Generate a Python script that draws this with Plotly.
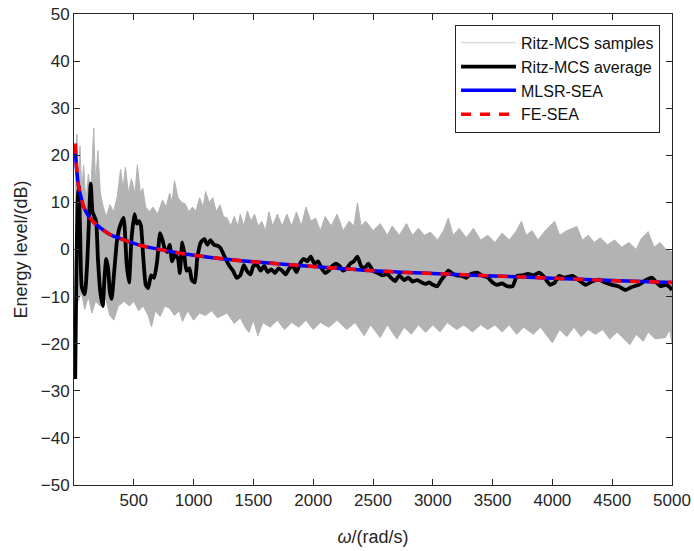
import plotly.graph_objects as go

# ---------------- data ----------------
# Outer envelope of the Ritz-MCS sample cloud (upper extremes)
upper_x = [10, 25, 35, 50, 65, 80, 100, 120, 140, 165, 180, 200, 220, 245, 270, 300, 330, 360, 390,
           410, 430, 455, 480, 510, 530, 555, 575, 600, 630, 660, 700, 740, 770, 800, 820, 840, 870,
           900, 930, 960, 990, 1020, 1050, 1080, 1100, 1130, 1160, 1190, 1220, 1250, 1280, 1310, 1340,
           1370, 1390, 1420, 1450, 1480, 1510, 1540, 1570, 1600, 1630, 1660, 1700, 1740, 1780, 1820,
           1860, 1900, 1940, 1980, 2020, 2060, 2100, 2150, 2200, 2250, 2300, 2340, 2370, 2400, 2440,
           2500, 2560, 2620, 2660, 2720, 2780, 2830, 2880, 2930, 2980, 3040, 3090, 3130, 3170, 3220,
           3280, 3340, 3400, 3460, 3520, 3580, 3640, 3700, 3741, 3780, 3830, 3880, 3940, 4019, 4060,
           4120, 4204, 4250, 4300, 4350, 4400, 4460, 4520, 4580, 4640, 4700, 4741, 4800, 4850, 4900,
           4950, 5000]
upper_y = [20, 24.5, 14, 22, 12, 18, 10, 16, 12, 25.8, 14, 21, 12, 9, 7, 9.5, 8, 11, 17,
           13, 17.5, 12, 15, 12, 18, 12, 13, 9, 8, 9, 7.5, 10.5, 9, 12, 10, 14.6, 11,
           10, 9.7, 8, 9, 8.2, 11, 9, 12.3, 10, 11, 8, 9.5, 7, 6.7, 5, 7,
           5, 7.5, 5, 8.2, 6, 7.5, 5, 6, 4, 8, 5, 7.5, 5, 7.5, 5,
           8, 5, 9, 6, 6.7, 4, 7, 5, 7.5, 4, 6, 5, 9.9, 5, 6,
           4, 5.5, 3, 5, 3, 5.5, 3, 4.5, 3, 3.7, 2, 4, 6.7, 3, 4.5,
           2.5, 4.5, 2, 3, 1.5, 3.5, 2, 4, 6, 3, 4, 2, 4, 6, 3,
           4, 4.9, 2, 3, 1.5, 2.5, 1, 2, 0.5, 1.5, 0, 2.2, 3.8, 0.5, 1.5,
           0, -0.5]

# Outer envelope of the Ritz-MCS sample cloud (lower extremes)
lower_x = [10, 37, 60, 90, 120, 150, 180, 220, 260, 300, 333, 370, 420, 463, 500, 540, 580, 620, 648,
           680, 720, 760, 800, 840, 880, 907, 950, 1000, 1050, 1100, 1150, 1200, 1241, 1280, 1340,
           1390, 1430, 1463, 1500, 1537, 1580, 1640, 1700, 1760, 1820, 1880, 1940, 2000, 2060, 2130,
           2200, 2280, 2350, 2426, 2480, 2560, 2620, 2700, 2760, 2820, 2880, 2940, 3000, 3060, 3120,
           3200, 3260, 3330, 3400, 3460, 3520, 3580, 3640, 3700, 3760, 3840, 3900, 3960, 4000, 4060,
           4120, 4180, 4240, 4300, 4360, 4420, 4480, 4540, 4600, 4648, 4700, 4760, 4800, 4860, 4944,
           4980, 5000]
lower_y = [-8, -11, -9, -12.7, -10, -13.5, -11, -12, -10, -14, -15, -12, -11, -12, -11, -13, -12, -14, -16.4,
           -13, -14.2, -12, -12.5, -14, -13, -15.3, -13, -15, -13.5, -14, -13, -14.5, -14, -13.5, -15.7,
           -14.5, -16.5, -17.6, -15, -18.3, -15.5, -16.5, -15, -17, -15.5, -16.5, -15, -17, -15.5, -16.5,
           -15, -17, -15.5, -18.3, -16, -18.7, -16, -19, -16.5, -18, -16, -17.6, -16, -17.5, -15.5,
           -17, -16, -17.5, -16, -17, -16, -17.5, -16, -18, -16.5, -18, -16.5, -18.5, -19.8, -17,
           -18.5, -16.5, -18.5, -17, -18, -17, -19, -17.5, -19, -20.2, -18, -19.5, -17.5, -19, -18.7,
           -17, -20]

# Ritz-MCS average
avg_x = [10, 20, 30, 40, 52, 65, 90, 110, 125, 140, 155, 170, 185, 200, 220, 240, 255, 270, 285, 300,
         315, 335, 360, 385, 415, 440, 460, 480, 505, 525, 545, 560, 580, 600, 620, 645, 670, 695, 720,
         740, 760, 780, 800, 820, 845, 870, 885, 905, 920, 940, 965, 985, 1010, 1030, 1060, 1090, 1115,
         1140, 1170, 1200, 1225, 1250, 1280, 1300, 1330, 1360, 1390, 1420, 1445, 1476, 1500, 1532, 1560,
         1590, 1620, 1650, 1680, 1710, 1740, 1770, 1800, 1830, 1860, 1890, 1920, 1950, 1980, 2010, 2040,
         2070, 2100, 2130, 2160, 2190, 2220, 2250, 2280, 2310, 2340, 2370, 2400, 2430, 2460, 2500, 2540,
         2580, 2620, 2650, 2685, 2720, 2760, 2796, 2830, 2870, 2907, 2940, 2970, 3000, 3037, 3070, 3100,
         3130, 3160, 3200, 3241, 3280, 3320, 3370, 3410, 3463, 3500, 3537, 3580, 3620, 3667, 3704, 3750,
         3796, 3840, 3889, 3930, 3981, 4020, 4056, 4100, 4167, 4220, 4278, 4330, 4389, 4440, 4500, 4550,
         4611, 4660, 4722, 4780, 4833, 4870, 4907, 4950, 4980, 5000]
avg_y = [-27.5, -5, 10, 13.5, 3, -8, -9.5, -3, 6, 14, 8, 7, 6, -2, -9, -12, -6, -2, -4, -9,
         -10.5, -5, 2, 5, 6.7, -3, -7, 2, 7.5, 5.5, 6, 5, -2, -7.5, -8.2, -5.5, -6, -2.5, 3.5,
         2, 0, -0.5, 1, -2.5, -1, -2, -5, 1.5, -0.5, -4.5, -4, -6.5, -7, -2, 1.5, 2.2, 1,
         2, 1, 0.8, 0.3, -1, -2.6, -3.5, -4.5, -6, -5.5, -3.3, -4.5, -5.3, -3.5, -3.3, -4.5,
         -3.5, -4.8, -4.2, -5, -4, -4.5, -5.3, -4, -3.5, -4.8, -3, -2, -2.5, -1.5, -3, -2.5,
         -4, -5, -4.5, -3.5, -3, -3.5, -4.5, -4, -3, -2.5, -1.5, -3.5, -4, -3, -4.5, -5,
         -5.5, -5.2, -6, -6.7, -5.5, -6.5, -6, -6.8, -6.5, -7, -7.3, -7, -7.5, -7.8, -6.5, -5.5,
         -4.5, -5, -5.5, -5.6, -6, -5.2, -4.9, -5.5, -6, -7, -7.5, -7.2, -7.8, -7.8, -5.6, -5.5,
         -5.2, -5.5, -4.9, -5.8, -7.5, -7, -5.6, -6, -5.6, -6.5, -7.5, -6.8, -6.4, -7, -7.5, -7.8,
         -8.6, -8, -7.5, -6.5, -6, -7, -7.8, -7.5, -8, -8.6]

# MLSR-SEA and FE-SEA predictions
sea_x = [10, 15, 20, 30, 40, 50, 75, 100, 150, 200, 300, 400, 500, 600, 800, 1000, 1250, 1500,
         2000, 2500, 3000, 3500, 4000, 4500, 5000]
mlsr_y = [21.5, 19.5, 17.5, 15, 13, 12, 9.5, 8, 6.2, 5, 3.2, 2.2, 1.3, 0.6, -0.4, -1.2, -2, -2.6,
          -3.6, -4.5, -5.1, -5.6, -6.1, -6.6, -7]
fesea_y = [22.5, 20, 18, 15.2, 13.2, 12, 9.5, 8, 6.2, 5, 3.2, 2.2, 1.3, 0.6, -0.4, -1.2, -2, -2.6,
           -3.6, -4.5, -5.1, -5.6, -6.1, -6.6, -7]

x_ticks = [500, 1000, 1500, 2000, 2500, 3000, 3500, 4000, 4500, 5000]
y_ticks = [-50, -40, -30, -20, -10, 0, 10, 20, 30, 40, 50]

# ---------------- figure ----------------
GRAY = "#b3b3b3"
FONT = "Liberation Sans, Arial, sans-serif"
fig = go.Figure()

# sample cloud: filled between the upper and lower extremes
fig.add_trace(go.Scatter(
    x=upper_x + lower_x[::-1], y=upper_y + lower_y[::-1],
    fill="toself", fillcolor=GRAY, line=dict(width=1, color=GRAY),
    mode="lines", showlegend=False, hoverinfo="skip"))
# legend entry for the samples
fig.add_trace(go.Scatter(
    x=[None], y=[None], mode="lines", line=dict(color="#cccccc", width=1.2),
    name="Ritz-MCS samples"))
fig.add_trace(go.Scatter(
    x=avg_x, y=avg_y, mode="lines",
    line=dict(color="black", width=3.8, shape="spline", smoothing=0.5),
    name="Ritz-MCS average"))
fig.add_trace(go.Scatter(
    x=sea_x, y=mlsr_y, mode="lines", line=dict(color="#0000ff", width=3.5, shape="spline"),
    name="MLSR-SEA"))
fig.add_trace(go.Scatter(
    x=sea_x, y=fesea_y, mode="lines",
    line=dict(color="#ff0000", width=3.5, dash="10px,9px", shape="spline"),
    name="FE-SEA"))

axis_common = dict(
    showline=True, linecolor="#262626", linewidth=1, mirror="ticks",
    ticks="inside", ticklen=6, tickcolor="#262626", tickwidth=1,
    showgrid=False, zeroline=False, automargin=False,
    tickfont=dict(family=FONT, size=17, color="#262626"),
)

fig.update_layout(
    width=694, height=551,
    margin=dict(l=74, r=22, t=14, b=66),
    paper_bgcolor="white", plot_bgcolor="white",
    font=dict(family=FONT, size=17, color="#262626"),
    xaxis=dict(range=[0, 5000], tickvals=x_ticks,
               title=dict(text="<i>ω</i>/(rad/s)", standoff=20,
                          font=dict(size=18, color="#262626")),
               **axis_common),
    yaxis=dict(range=[-50, 50], tickvals=y_ticks,
               title=dict(text="Energy level/(dB)", standoff=8,
                          font=dict(size=18, color="#262626")),
               **axis_common),
    legend=dict(x=0.98, y=0.977, xanchor="right", yanchor="top",
                bgcolor="white", bordercolor="#262626", borderwidth=1,
                font=dict(family=FONT, size=16, color="#111111"),
                itemwidth=55, tracegroupgap=0),
    showlegend=True,
)

fig.write_html("out.html")
